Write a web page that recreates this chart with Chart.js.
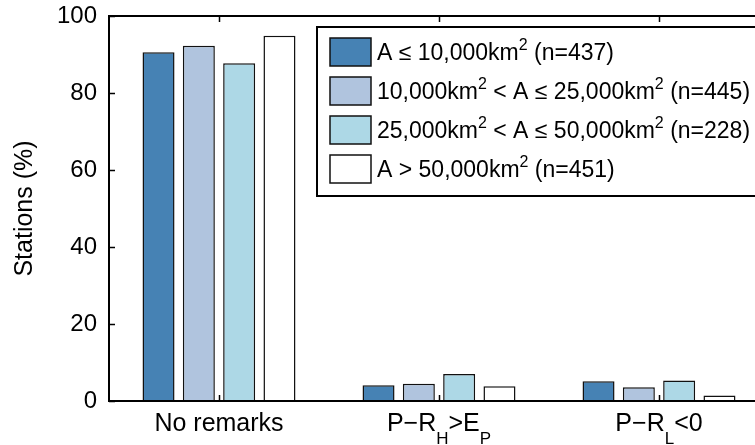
<!DOCTYPE html>
<html>
<head>
<meta charset="utf-8">
<script src="https://cdn.jsdelivr.net/npm/chart.js@4"></script>
<style>
  html, body { margin: 0; padding: 0; background: #fff; overflow: hidden; }
  #wrap { width: 790px; height: 445px; }
</style>
</head>
<body>
<div id="wrap"><canvas id="chart" width="790" height="445"></canvas></div>
<script>
// categories (rich text: _{..} subscript, ^{..} superscript)
const categories = ['No remarks', 'P\u2212R_{H}>E_{P}', 'P\u2212R_{L}<0'];
const seriesLabels = [
    'A \u2264 10,000km^{2} (n=437)',
    '10,000km^{2} < A \u2264 25,000km^{2} (n=445)',
    '25,000km^{2} < A \u2264 50,000km^{2} (n=228)',
    'A > 50,000km^{2} (n=451)'
];
const smallArea = [90.6, 4.1, 5.1];
const mediumArea = [92.3, 4.5, 3.6];
const largeArea = [87.7, 7.0, 5.3];
const hugeArea = [94.9, 3.8, 1.4];
const seriesColors = ['#4682B4', '#B0C4DE', '#ADD8E6', '#FFFFFF'];
const yTicks = [0, 20, 40, 60, 80, 100];

const FONT = "'Liberation Sans', Arial, sans-serif";

function parseRich(s) {
    var parts = [], re = /([\^_])\{([^}]*)\}/g, last = 0, m;
    while ((m = re.exec(s))) {
        if (m.index > last) parts.push({ t: s.slice(last, m.index), k: 'n' });
        parts.push({ t: m[2], k: m[1] === '^' ? 'sup' : 'sub' });
        last = re.lastIndex;
    }
    if (last < s.length) parts.push({ t: s.slice(last), k: 'n' });
    return parts;
}

function drawRich(ctx, s, x, y, size, align) {
    var parts = parseRich(s);
    var small = Math.round(size * 0.68);
    var w = 0;
    parts.forEach(p => {
        ctx.font = (p.k === 'n' ? size : small) + 'px ' + FONT;
        p.w = ctx.measureText(p.t).width;
        w += p.w;
    });
    var cx = align === 'center' ? x - w / 2 : x;
    ctx.textAlign = 'left';
    ctx.textBaseline = 'alphabetic';
    parts.forEach(p => {
        ctx.font = (p.k === 'n' ? size : small) + 'px ' + FONT;
        var dy = p.k === 'sup' ? -size * 0.42 : (p.k === 'sub' ? size * 0.52 : 0);
        ctx.fillText(p.t, cx, y + dy);
        cx += p.w;
    });
}

const matlabFrame = {
    id: 'matlabFrame',
    afterDatasetsDraw(chart) {
        const ctx = chart.ctx;
        const a = chart.chartArea;
        const xs = chart.scales.x, ys = chart.scales.y;
        ctx.save();
        ctx.strokeStyle = '#000';
        ctx.lineWidth = 1.5;
        ctx.beginPath();
        yTicks.forEach(v => {
            const py = Math.round(ys.getPixelForValue(v)) + 0.5;
            ctx.moveTo(a.left, py); ctx.lineTo(a.left + 6, py);
            ctx.moveTo(a.right, py); ctx.lineTo(a.right - 6, py);
        });
        categories.forEach((c, i) => {
            const px = Math.round(xs.getPixelForValue(i)) + 0.5;
            ctx.moveTo(px, a.bottom); ctx.lineTo(px, a.bottom - 6);
            ctx.moveTo(px, a.top); ctx.lineTo(px, a.top + 6);
        });
        ctx.stroke();
        ctx.lineWidth = 2;
        ctx.strokeRect(a.left, a.top, a.right - a.left, a.bottom - a.top);

        // x tick labels with subscripts
        ctx.fillStyle = '#000';
        categories.forEach((c, i) => {
            drawRich(ctx, c, xs.getPixelForValue(i), a.bottom + 30, 25, 'center');
        });
        ctx.restore();
    },
    afterDraw(chart) {
        const ctx = chart.ctx;
        ctx.save();
        // legend box
        const bx = 317, by = 27, bw = 460, bh = 169;
        ctx.fillStyle = '#fff';
        ctx.fillRect(bx, by, bw, bh);
        ctx.strokeStyle = '#000';
        ctx.lineWidth = 2;
        ctx.strokeRect(bx, by, bw, bh);
        chart.data.datasets.forEach((ds, i) => {
            const top = by + 11 + i * 39;
            ctx.fillStyle = ds.backgroundColor;
            ctx.fillRect(330, top, 41, 28);
            ctx.lineWidth = 1.5;
            ctx.strokeStyle = '#111';
            ctx.strokeRect(330, top, 41, 28);
            ctx.fillStyle = '#000';
            drawRich(ctx, seriesLabels[i], 377, top + 22, 23, 'left');
        });
        ctx.restore();
    }
};

const ctx = document.getElementById('chart').getContext('2d');
const datasets = [smallArea, mediumArea, largeArea, hugeArea].map((vals, i) => ({
    label: seriesLabels[i],
    data: vals,
    backgroundColor: seriesColors[i],
    borderColor: '#111',
    borderWidth: 1.5,
    categoryPercentage: 0.733,
    barPercentage: 0.794
}));

new Chart(ctx, {
    type: 'bar',
    data: { labels: categories.map(c => c.replace(/[_^]\{([^}]*)\}/g, '$1')), datasets: datasets },
    options: {
        responsive: false,
        animation: false,
        layout: { padding: { left: 0, top: 16, right: 21, bottom: 0 } },
        plugins: { legend: { display: false }, tooltip: { enabled: false } },
        scales: {
            x: {
                grid: { display: false, drawTicks: false },
                border: { display: false },
                ticks: { display: false },
                afterFit: s => { s.height = 44; s.paddingLeft = 0; s.paddingRight = 0; }
            },
            y: {
                min: 0,
                max: 100,
                grid: { display: false, drawTicks: false },
                border: { display: false },
                ticks: {
                    stepSize: 20,
                    padding: 12,
                    color: '#000',
                    font: { family: FONT, size: 24 }
                },
                title: {
                    display: true,
                    text: 'Stations (%)',
                    color: '#000',
                    font: { family: FONT, size: 25 },
                    padding: { top: 10, bottom: 0 }
                },
                afterFit: s => { s.width = 109; s.paddingTop = 0; s.paddingBottom = 0; }
            }
        }
    },
    plugins: [matlabFrame]
});
</script>
</body>
</html>
